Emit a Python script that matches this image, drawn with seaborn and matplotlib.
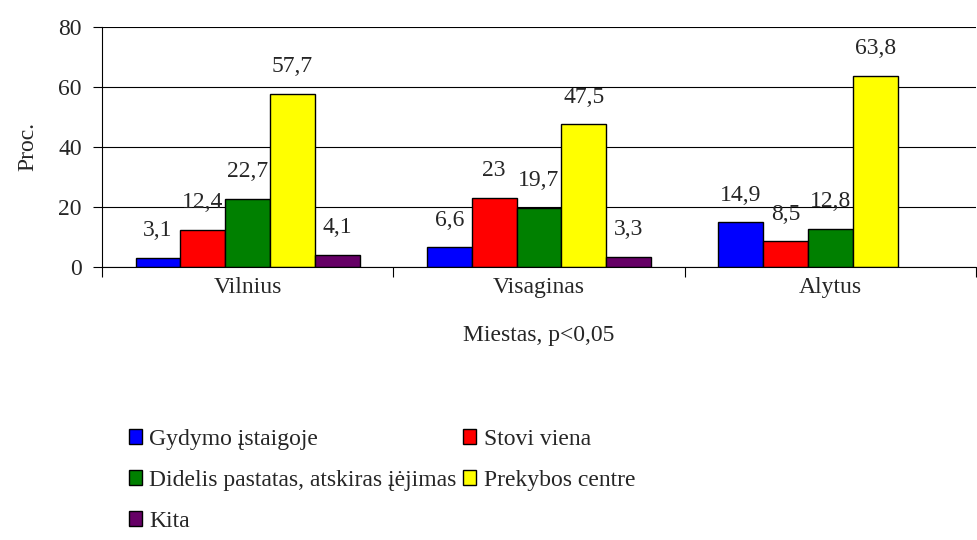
import matplotlib
matplotlib.use("Agg")
import matplotlib.pyplot as plt
import pandas as pd
import seaborn as sns
from matplotlib.ticker import FixedLocator

cities = ["Vilnius", "Visaginas", "Alytus"]
places = ["Gydymo įstaigoje", "Stovi viena", "Didelis pastatas, atskiras įėjimas",
          "Prekybos centre", "Kita"]
gydymo = [3.1, 6.6, 14.9]
stovi = [12.4, 23.0, 8.5]
didelis = [22.7, 19.7, 12.8]
prekybos = [57.7, 47.5, 63.8]
kita = [4.1, 3.3, None]  # no bar for Alytus
colors = ["#0000FF", "#FF0000", "#008000", "#FFFF00", "#660066"]

FS = 17


def main():
    series = [gydymo, stovi, didelis, prekybos, kita]
    rows = []
    for name, vals in zip(places, series):
        for city, v in zip(cities, vals):
            if v is not None:
                rows.append({"Miestas": city, "Vieta": name, "Proc": v})
    df = pd.DataFrame(rows)

    sns.set_style("white")
    plt.rcParams["font.family"] = ["Liberation Serif", "DejaVu Serif"]
    plt.rcParams["font.size"] = FS

    fig = plt.figure(figsize=(9.77, 5.4), dpi=100)
    ax = fig.add_axes([0.1044, 0.5056, 0.8946, 0.4444])

    sns.barplot(data=df, x="Miestas", y="Proc", hue="Vieta", order=cities,
                hue_order=places, palette=colors, width=0.77, gap=0,
                edgecolor="black", linewidth=1, saturation=1, ax=ax,
                legend=True)

    for cont, vals in zip(ax.containers, series):
        vals = [v for v in vals if v is not None]
        labels = [f"{v:g}".replace(".", ",") for v in vals]
        ax.bar_label(cont, labels=labels, padding=12, fontsize=FS)

    ax.set_ylim(0, 80)
    ax.set_yticks([0, 20, 40, 60, 80])
    ax.set_xlim(-0.5, 2.5)
    ax.yaxis.grid(True, color="black", linewidth=0.8)
    ax.set_axisbelow(True)
    for s in ["top", "right"]:
        ax.spines[s].set_visible(False)
    ax.spines["left"].set_color("black")
    ax.spines["bottom"].set_color("black")

    ax.xaxis.set_minor_locator(FixedLocator([-0.5, 0.5, 1.5, 2.5]))
    ax.tick_params(axis="x", which="major", length=0, pad=7, labelsize=FS)
    ax.tick_params(axis="x", which="minor", length=7, width=0.8,
                   direction="out", color="black", bottom=True)
    ax.tick_params(axis="y", length=6.5, width=0.8, direction="out", pad=8,
                   color="black", left=True, labelsize=FS)

    ax.set_xlabel("Miestas, p<0,05", fontsize=FS, labelpad=20)
    ax.set_ylabel("Proc.", fontsize=FS, labelpad=14)

    handles, labels = ax.get_legend_handles_labels()
    ax.get_legend().remove()
    order = [0, 2, 4, 1, 3]
    fig.legend([handles[i] for i in order], [labels[i] for i in order],
               loc="upper left", bbox_to_anchor=(0.132, 0.206), ncol=2,
               frameon=False, fontsize=FS, borderpad=0, borderaxespad=0,
               handlelength=0.55, handleheight=0.6, handletextpad=0.3,
               labelspacing=0.85, columnspacing=0.3)

    fig.savefig("out.png", dpi=100)


if __name__ == "__main__":
    main()
